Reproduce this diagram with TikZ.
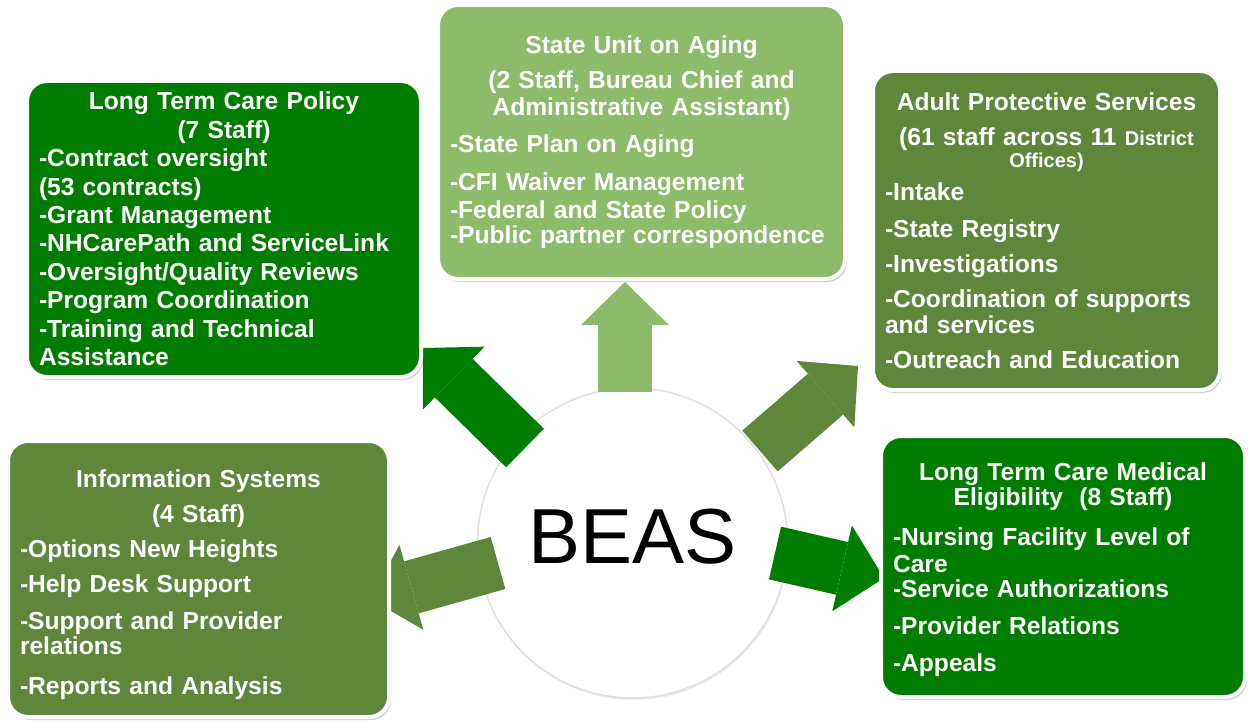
\documentclass[tikz,border=0pt]{standalone}
\usepackage{fontspec}
\setmainfont{Liberation Sans}
\usetikzlibrary{arrows.meta,shadows}

\begin{document}
\begin{tikzpicture}[x=1pt,y=-1pt]

    \definecolor{deepgreen}{RGB}{0,125,0}
    \definecolor{mossgreen}{RGB}{95,135,60}
    \definecolor{leafgreen}{RGB}{140,187,106}

    \tikzset{
        unit/.style={rectangle, rounded corners=20pt, draw=white, line width=4pt, fill=#1,
                text=white, align=left, inner xsep=12pt, inner ysep=0pt,
                font=\bfseries\fontsize{24.6}{26.5}\selectfont,
                drop shadow={shadow xshift=2pt, shadow yshift=-3pt, opacity=0.3, fill=black!60}},
        push/.style={draw=#1, line width=54pt,
                -{Triangle[length=43pt 0 0, width=88pt 0 0, line width=0pt 0 0]}},
    }

    \fill[white] (0,0) rectangle (1248,725);

    \node[circle, draw=black!12, line width=1.5pt, fill=white, minimum size=310pt, inner sep=0pt,
        font=\fontsize{78}{78}\selectfont, text depth=14pt,
        drop shadow={shadow xshift=1pt, shadow yshift=-2pt, opacity=0.15}] (beas) at (632.5,543) {BEAS};

    \coordinate (policy-tail) at (525,448);
    \coordinate (policy-tip) at (423,348);
    \coordinate (aging-tail) at (625,392);
    \coordinate (aging-tip) at (625,282);
    \coordinate (aps-tail) at (760,451);
    \coordinate (aps-tip) at (858,366);
    \coordinate (info-tail) at (498,563);
    \coordinate (info-tip) at (370,599);
    \coordinate (medical-tail) at (775,553);
    \coordinate (medical-tip) at (884,578);

    \draw[push=deepgreen] (policy-tail) -- (policy-tip);
    \draw[push=leafgreen] (aging-tail) -- (aging-tip);
    \draw[push=mossgreen] (aps-tail) -- (aps-tip);
    \draw[push=mossgreen] (info-tail) -- (info-tip);
    \draw[push=deepgreen] (medical-tail) -- (medical-tip);

    \node[unit=deepgreen, minimum width=394pt, minimum height=296pt, text width=370pt,
        font=\bfseries\fontsize{24.6}{28.4}\selectfont] (policy) at (224,229) {%
        {\centering Long Term Care Policy\\
            (7 Staff)\par}
        -Contract oversight\\
        (53 contracts)\\
        -Grant Management\\
        -NHCarePath and ServiceLink\\
        -Oversight/Quality Reviews\\
        -Program Coordination\\
        -Training and Technical\\
        Assistance};

    \node[unit=leafgreen, minimum width=407pt, minimum height=274pt, text width=383pt] (aging) at (641.5,142) {%
        {\centering State Unit on Aging\\[9pt]
            (2 Staff, Bureau Chief and\\
            Administrative Assistant)\par}
        \vspace{11pt}
        -State Plan on Aging\\[11pt]
        -CFI Waiver Management\\[2pt]
        -Federal and State Policy\\[-1.5pt]
        -Public partner correspondence};

    \node[unit=mossgreen, minimum width=347pt, minimum height=319pt, text width=323pt] (aps) at (1046.5,230.5) {%
        {\centering Adult Protective Services\\[8.5pt]
            (61 staff across 11 {\fontsize{20}{22}\selectfont District}\\[-4.5pt]
            {\fontsize{20}{22}\selectfont Offices)}\par}
        \vspace{6.5pt}
        -Intake\\[10.5pt]
        -State Registry\\[8.5pt]
        -Investigations\\[8.5pt]
        -Coordination of supports\\
        and services\\[8.5pt]
        -Outreach and Education};

    \node[unit=mossgreen, minimum width=381pt, minimum height=276pt, text width=357pt] (info) at (198.5,579) {%
        {\centering Information Systems\\[8.5pt]
            (4 Staff)\par}
        \vspace{8.5pt}
        -Options New Heights\\[8.5pt]
        -Help Desk Support\\[10.5pt]
        -Support and Provider\\[-1.5pt]
        relations\\[13.5pt]
        -Reports and Analysis\par
        \vspace{-12pt}};

    \node[unit=deepgreen, minimum width=364pt, minimum height=261pt, text width=340pt] (medical) at (1063,566.5) {%
        {\centering Long Term Care Medical\\[-1.5pt]
            Eligibility\ \ (8 Staff)\par}
        \vspace{13.5pt}
        -Nursing Facility Level of\\
        Care\\[-1.5pt]
        -Service Authorizations\\[10.5pt]
        -Provider Relations\\[10.5pt]
        -Appeals\par
        \vspace{-6pt}};

\end{tikzpicture}
\end{document}
